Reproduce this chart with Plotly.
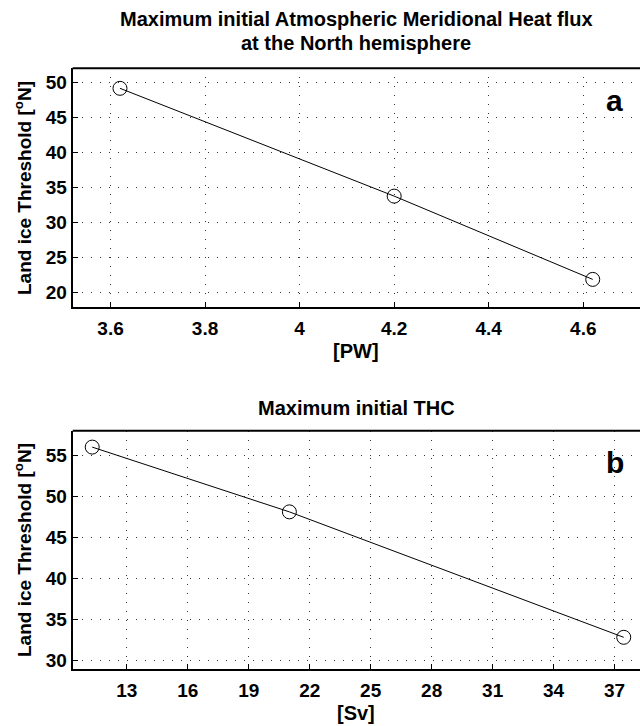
import plotly.graph_objects as go

# Panel a data
heat_flux_pw = [3.62, 4.20, 4.62]
threshold_a = [49.2, 33.8, 21.9]
ticks_a_x = [3.6, 3.8, 4.0, 4.2, 4.4, 4.6]
ticklabels_a_x = ["3.6", "3.8", "4", "4.2", "4.4", "4.6"]
ticks_a_y = [20, 25, 30, 35, 40, 45, 50]

# Panel b data
thc_sv = [11.3, 21.0, 37.45]
threshold_b = [56.0, 48.1, 32.8]
ticks_b_x = [13, 16, 19, 22, 25, 28, 31, 34, 37]
ticks_b_y = [30, 35, 40, 45, 50, 55]

W, H = 640, 726
FONT = "Liberation Sans, Arial, Helvetica, sans-serif"

def px_x(p):
    return p / W

def px_y(p):
    return 1 - p / H

fig = go.Figure()
fig.add_trace(go.Scatter(x=heat_flux_pw, y=threshold_a, mode="lines+markers",
                         line=dict(color="black", width=1),
                         marker=dict(symbol="circle-open", size=14, color="black", line=dict(width=1)),
                         xaxis="x", yaxis="y", showlegend=False))
fig.add_trace(go.Scatter(x=thc_sv, y=threshold_b, mode="lines+markers",
                         line=dict(color="black", width=1),
                         marker=dict(symbol="circle-open", size=14, color="black", line=dict(width=1)),
                         xaxis="x2", yaxis="y2", showlegend=False))

tickfont = dict(family=FONT, size=19, color="black", weight="bold")
common = dict(showline=True, linecolor="black", linewidth=2, ticks="inside", ticklen=5,
              tickcolor="black", tickwidth=1, showgrid=True, gridcolor="#333333",
              gridwidth=1, griddash="1px,8px", zeroline=False, tickfont=tickfont,
              automargin=False)

xl = px_x(72.7)
fig.update_layout(
    width=W, height=H, margin=dict(l=0, r=0, t=0, b=0),
    paper_bgcolor="white", plot_bgcolor="white",
    xaxis=dict(domain=[xl, 1], range=[3.52, 4.72], tickvals=ticks_a_x, ticktext=ticklabels_a_x,
               anchor="y", ticklabelstandoff=3, **common),
    yaxis=dict(domain=[px_y(306.7), px_y(68.3)], range=[18, 52.06], tickvals=ticks_a_y,
               anchor="x", **common),
    xaxis2=dict(domain=[xl, 1], range=[10.34, 38.25], tickvals=ticks_b_x,
                anchor="y2", ticklabelstandoff=3, **common),
    yaxis2=dict(domain=[px_y(668.7), px_y(430.7)], range=[28.97, 58.0], tickvals=ticks_b_y,
                anchor="x2", **common),
)

# top borders
for xr, yr in (("x domain", "y domain"), ("x2 domain", "y2 domain")):
    fig.add_shape(type="line", xref=xr, yref=yr, x0=0, x1=1, y0=1, y1=1,
                  line=dict(color="black", width=2))

def ann(text, x, y, size, angle=0):
    fig.add_annotation(text=text, x=px_x(x), y=px_y(y), xref="paper", yref="paper",
                       showarrow=False, textangle=angle, xanchor="center", yanchor="middle",
                       font=dict(family=FONT, size=size, color="black", weight="bold"))

ann("Maximum initial Atmospheric Meridional Heat flux", 356, 19, 20)
ann("at the North hemisphere", 356, 43, 20)
ann("Maximum initial THC", 356, 408, 20)
ann("[PW]", 356, 351, 20)
ann("[Sv]", 356, 713, 20)
ann("Land ice Threshold [<sup>o</sup>N]", 23, 188, 19, -90)
ann("Land ice Threshold [<sup>o</sup>N]", 23, 550, 19, -90)
ann("a", 614, 100, 30)
ann("b", 615, 462, 30)

fig.write_html("out.html")
